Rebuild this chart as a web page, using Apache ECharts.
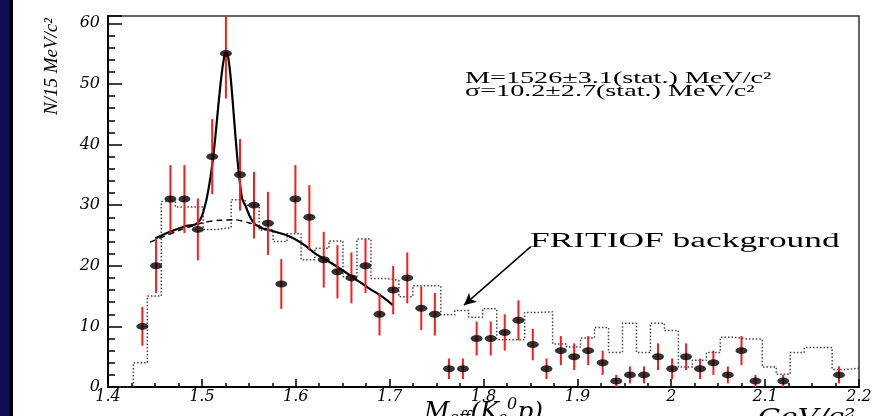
<!DOCTYPE html>
<html><head><meta charset="utf-8">
<script src="https://cdn.jsdelivr.net/npm/echarts@6/dist/echarts.min.js"></script>
<style>
html,body{margin:0;padding:0;background:#fff;}
#wrap{position:relative;width:881px;height:416px;overflow:hidden;background:#fff;}
#chart{position:absolute;left:0;top:0;width:881px;height:416px;}
#navy{position:absolute;left:0;top:0;width:9px;height:416px;background:#100c58;}
#blk{position:absolute;left:9px;top:0;width:4px;height:416px;background:#000;}
</style></head><body>
<div id="wrap"><div id="chart"></div><div id="navy"></div><div id="blk"></div></div>
<script>
// measured data points (bin centres, GeV/c^2), counts and errors
const pointX = [1.4366,1.4512,1.4665,1.4814,1.4957,1.5110,1.5256,1.5406,1.5555,1.5704,
  1.5846,1.5996,1.6145,1.6298,1.6444,1.6593,1.6743,1.6892,1.7038,1.7188,
  1.7337,1.7482,1.7632,1.7781,1.7927,1.8077,1.8226,1.8372,1.8525,1.8671,
  1.8824,1.8966,1.9115,1.9269,1.9414,1.9560,1.9710,1.9859,2.0009,2.0158,
  2.0307,2.0449,2.0603,2.0748,2.0897,2.1193,2.1787];
const pointY = [10,20,31,31,26,38,55,35,30,27,
  17,31,28,21,19,18,20,12,16,18,
  13,12,3,3,8,8,9,11,7,3,
  6,5,6,4,1,2,2,5,3,5,
  3,4,2,6,1,1,2];
const pointErr = [3.2,4.5,5.6,5.6,5.1,6.2,7.4,5.9,5.5,5.2,
  4.1,5.6,5.3,4.6,4.4,4.2,4.5,3.5,4.0,4.2,
  3.6,3.5,1.7,1.7,2.8,2.8,3.0,3.3,2.6,1.7,
  2.4,2.2,2.4,2.0,1.0,1.4,1.4,2.2,1.7,2.2,
  1.7,2.0,1.4,2.4,1.0,1.0,1.4];
// FRITIOF background histogram
const histStart = 1.4121;
const histBin = 0.014888;
const histValues = [0,4.0,15.0,30.6,29.7,29.7,26.0,26.3,30.9,30.0,
  25.9,24.0,25.3,21.0,22.9,24.1,18.2,24.4,17.9,17.6,
  14.9,16.7,16.7,11.9,12.6,11.5,12.9,7.8,7.8,12.3,
  12.4,7.1,6.6,8.1,9.8,5.7,10.5,5.7,10.5,9.3,
  3.3,4.4,5.7,8.2,7.9,7.9,3.3,2.1,5.7,6.5,
  6.5,2.9,3.1];
// fit curve (total) and background under the peak
const fitX = [1.4502,1.4662,1.4840,1.4928,1.4982,1.5025,1.5067,1.5110,1.5142,1.5174,
  1.5206,1.5233,1.5256,1.5281,1.5307,1.5334,1.5366,1.5398,1.5430,1.5467,
  1.5515,1.5569,1.5640,1.5711,1.5782,1.5924,1.6067,1.6209,1.6351,1.6494,
  1.6636,1.6778,1.6921,1.7034];
const fitY = [24.5,25.6,26.6,26.8,27.6,29.4,32.3,36.6,41.0,46.2,
  51.0,54.0,55.3,54.3,51.0,46.0,39.8,34.6,31.0,29.8,
  28.0,26.8,26.2,25.9,25.6,24.9,23.7,22.0,20.7,19.3,
  17.8,16.3,14.9,13.5];
const bgX = [1.4448,1.4608,1.4768,1.4928,1.5035,1.5195,1.5337,1.5497,1.5601,1.5708];
const bgY = [23.9,24.9,25.9,26.7,27.2,27.5,27.6,27.1,26.6,26.0];
// tick labels
const xTickLabels = ['1.4','1.5','1.6','1.7','1.8','1.9','2','2.1','2.2'];
const yTickLabels = ['0','10','20','30','40','50','60'];
// annotation arrow (data coords)
const arrowFrom = [1.8504, 23.15];
const arrowTo = [1.7792, 13.5];

const points = pointX.map((x, i) => [x, pointY[i], pointErr[i]]);
const hist = [];
for (let i = 0; i <= histValues.length; i++) {
  hist.push([histStart + i * histBin, histValues[Math.min(i, histValues.length - 1)]]);
}
const fit = fitX.map((x, i) => [x, fitY[i]]);
const bg = bgX.map((x, i) => [x, bgY[i]]);

const labelFont = {fontFamily: '"DejaVu Serif"', fontStyle: 'italic', fontSize: 16, color: '#000'};

const chart = echarts.init(document.getElementById('chart'), null, {renderer: 'canvas'});
chart.setOption({
  animation: false,
  backgroundColor: '#fff',
  grid: {left: 108, top: 16, right: 22, bottom: 29, outerBoundsMode: 'none', containLabel: false,
    show: true, borderColor: '#333', borderWidth: 1.5, backgroundColor: 'transparent'},
  xAxis: {
    type: 'value', min: 1.4, max: 2.2, interval: 0.1,
    name: '{m|M}{sub|eff}{m|(K}{sub|s}{sup|0}{m|p)}',
    nameLocation: 'middle', nameGap: 10, nameMoveOverlap: false,
    nameTextStyle: {
      rich: {
        m: {fontFamily: '"DejaVu Serif"', fontStyle: 'italic', fontSize: 25, lineHeight: 30, color: '#000'},
        sub: {fontFamily: '"DejaVu Serif"', fontStyle: 'italic', fontSize: 16, lineHeight: 14, verticalAlign: 'bottom', color: '#000'},
        sup: {fontFamily: '"DejaVu Serif"', fontStyle: 'italic', fontSize: 16, lineHeight: 12, verticalAlign: 'top', color: '#000'}
      }
    },
    axisLine: {lineStyle: {color: '#000', width: 2}},
    axisTick: {inside: true, length: 8, lineStyle: {color: '#000', width: 1.5}},
    minorTick: {show: true, splitNumber: 4, length: 4, lineStyle: {color: '#000', width: 1.5}},
    splitLine: {show: false},
    axisLabel: Object.assign({margin: 2, formatter: v => xTickLabels[Math.round((v - 1.4) / 0.1)] || ''}, labelFont)
  },
  yAxis: {
    type: 'value', min: 0, max: 61.2, interval: 10,
    name: 'N/15 MeV/c²',
    nameLocation: 'end', nameRotate: 90, nameGap: -2, nameMoveOverlap: false,
    nameTextStyle: {fontFamily: '"Liberation Serif"', fontStyle: 'italic', fontSize: 19, color: '#000',
      align: 'right', verticalAlign: 'bottom', padding: [0, 0, 47, 0]},
    axisLine: {lineStyle: {color: '#000', width: 2}},
    axisTick: {inside: true, length: 14, lineStyle: {color: '#000', width: 1.5}},
    minorTick: {show: true, splitNumber: 5, length: 7, lineStyle: {color: '#000', width: 1.5}},
    splitLine: {show: false},
    axisLabel: Object.assign({margin: 8, showMaxLabel: false,
      formatter: v => (Math.abs(v / 10 - Math.round(v / 10)) < 1e-6 ? (yTickLabels[Math.round(v / 10)] || '') : '')}, labelFont)
  },
  graphic: [
    {type: 'text', x: 465, y: 79, scaleX: 1.76, style: {text: 'M=1526±3.1(stat.) MeV/c²', fontFamily: '"Liberation Serif"', fontSize: 16, fill: '#000', align: 'left', verticalAlign: 'middle'}},
    {type: 'text', x: 465, y: 92, scaleX: 1.76, style: {text: 'σ=10.2±2.7(stat.) MeV/c²', fontFamily: '"Liberation Serif"', fontSize: 16, fill: '#000', align: 'left', verticalAlign: 'middle'}},
    {type: 'text', x: 530, y: 242, scaleX: 1.77, style: {text: 'FRITIOF background', fontFamily: '"Liberation Serif"', fontSize: 20, fill: '#000', align: 'left', verticalAlign: 'middle'}},
    {type: 'text', x: 758, y: 418, scaleX: 1.3, style: {text: 'GeV/c²', fontFamily: '"DejaVu Serif"', fontStyle: 'italic', fontSize: 22, fill: '#000', align: 'left', verticalAlign: 'middle'}}
  ],
  series: [
    {
      type: 'line', name: 'FRITIOF', data: hist, step: 'end', showSymbol: false, symbol: 'none',
      lineStyle: {color: '#444', width: 1.5, type: [1.5, 2]}, z: 1, silent: true,
      markLine: {
        silent: true, symbol: ['none', 'arrow'], symbolSize: [9, 12], animation: false,
        label: {show: false}, lineStyle: {color: '#000', width: 1.5, type: 'solid'},
        data: [[{coord: arrowFrom}, {coord: arrowTo}]]
      }
    },
    {
      type: 'line', name: 'bg', data: bg, smooth: 0.3, showSymbol: false, symbol: 'none',
      lineStyle: {color: '#000', width: 1.5, type: [6, 4]}, z: 2, silent: true
    },
    {
      type: 'line', name: 'fit', data: fit, smooth: 0.3, showSymbol: false, symbol: 'none',
      lineStyle: {color: '#000', width: 2.2}, z: 3, silent: true
    },
    {
      type: 'custom', name: 'err', data: points, clip: true, z: 4, silent: true,
      encode: {x: 0, y: 1},
      renderItem: (params, api) => {
        const x = api.value(0), y = api.value(1), e = api.value(2);
        const p1 = api.coord([x, y - e]);
        const p2 = api.coord([x, y + e]);
        return {type: 'line', shape: {x1: p1[0], y1: p1[1], x2: p2[0], y2: p2[1]}, style: {stroke: '#ff1a1a', lineWidth: 2}};
      }
    },
    {
      type: 'scatter', name: 'data', data: points.map(p => [p[0], p[1]]), symbol: 'circle', symbolSize: [12, 7],
      itemStyle: {color: '#000'}, z: 5, silent: true
    }
  ]
});
</script>
</body></html>
